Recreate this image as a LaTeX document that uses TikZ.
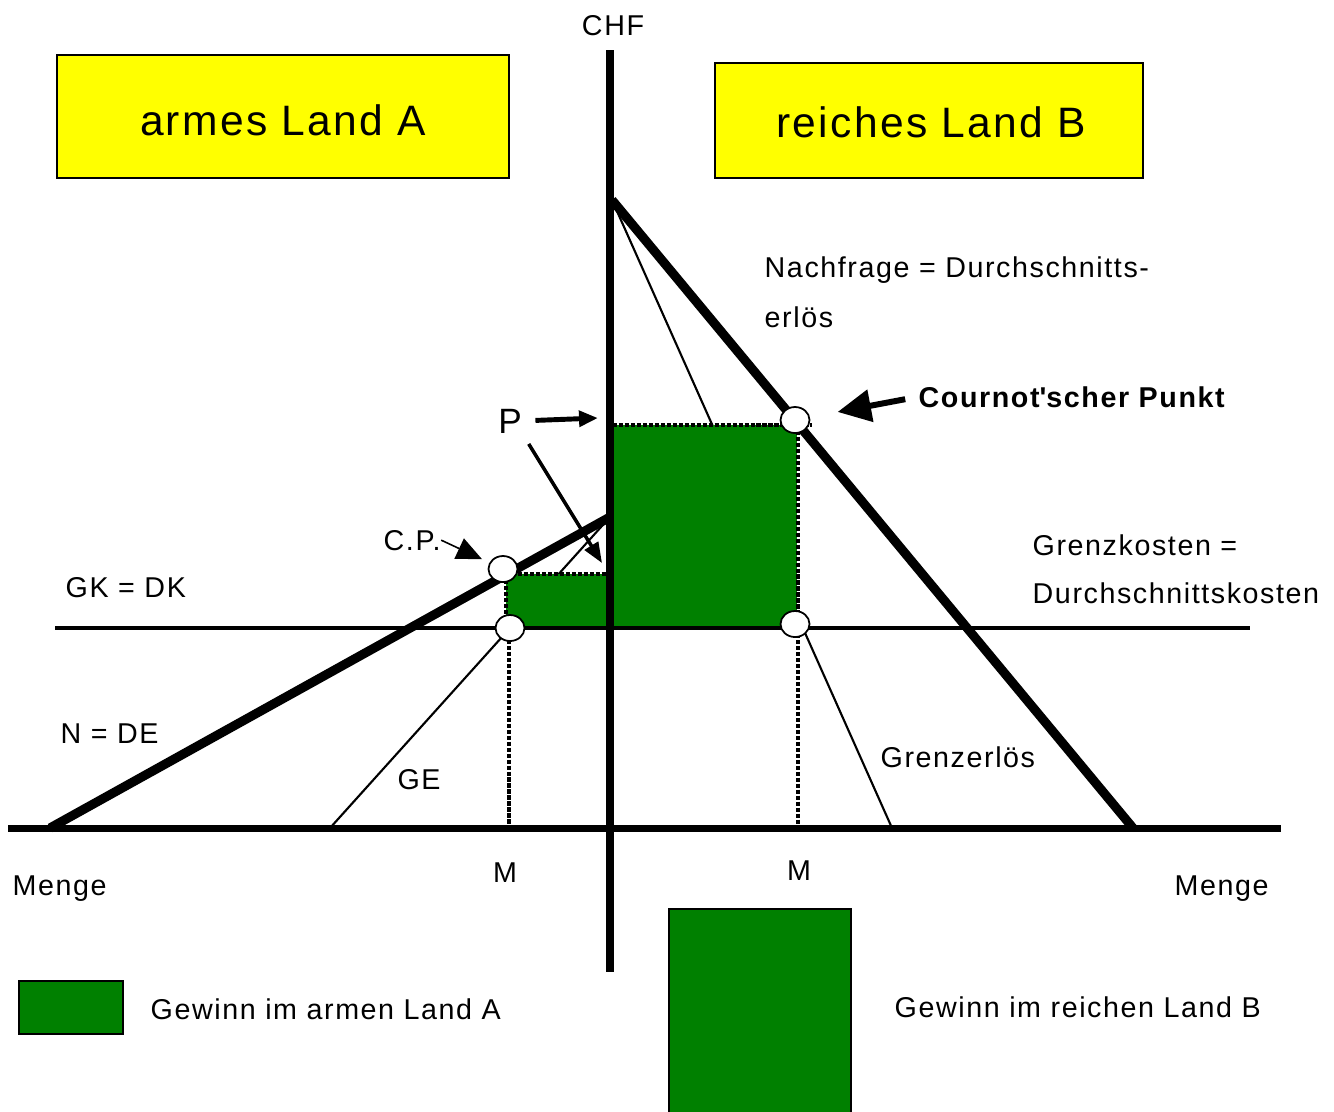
\documentclass[tikz,border=0pt]{standalone}
\usepackage{fontspec}
\setmainfont[LetterSpace=5.5]{Liberation Sans}
\usetikzlibrary{arrows.meta,shapes.geometric}
\definecolor{gruen}{RGB}{0,128,0}
\definecolor{gelb}{RGB}{255,255,0}
\tikzset{
  achse/.style     = {line width=2pt},
  gkline/.style    = {line width=1.3pt},
  kurve/.style     = {line width=2.6pt},
  duenn/.style     = {line width=0.6pt},
  punktiert/.style = {line width=0.9pt, dash pattern=on 1.2pt off 0.5pt},
  punkt/.style     = {ellipse, draw, fill=white, line width=0.5pt, minimum width=0.29cm, minimum height=0.26cm, inner sep=0pt},
  landbox/.style   = {draw, fill=gelb, line width=0.45pt},
  landtxt/.style   = {inner sep=0pt, anchor=base, font=\fontsize{12.1}{14}\selectfont},
  legende/.style   = {draw, fill=gruen, line width=0.5pt, inner sep=0pt},
  txt/.style       = {inner sep=0pt, anchor=base west, font=\fontsize{8.15}{10}\selectfont},
  ctxt/.style      = {inner sep=0pt, anchor=base, font=\fontsize{8.15}{10}\selectfont},
}

\begin{document}
\begin{tikzpicture}[x=0.01cm,y=-0.01cm]
            \useasboundingbox (0,0) rectangle (1334,1111);
            \coordinate (nBtop)  at (612,200);
            \coordinate (nBbot)  at (1133,828);
            \coordinate (geBbot) at (892,828);
            \coordinate (nAtop)  at (610,517);
            \coordinate (nAbot)  at (50,828);
            \coordinate (geAbot) at (330,828);
            \coordinate (pTipA)  at (598,418);
            \coordinate (pTipB)  at (602,563);

            \draw[duenn] (nBtop) -- (geBbot);
            \draw[duenn] (nAtop) -- (geAbot);
            \fill[gruen]      (613,425) rectangle (797,628);
            \fill[gruen]      (506,574) rectangle (608,628);
            \draw[punktiert]  (613,425) -- (812,425);
            \draw[punktiert]  (798,425) -- (798,828);
            \draw[punktiert]  (506,574) -- (608,574);
            \draw[punktiert]  (506,574) -- (506,628);
            \draw[punktiert]  (509,628) -- (509,828);
            \draw[gkline]     (55,628)  -- (1250,628);
            \draw[achse]      (8,828)   -- (1281,828);
            \draw[achse]      (610,50)  -- (610,972);
            \draw[kurve] (nBtop) -- (nBbot);
            \draw[kurve] (nAbot) -- (nAtop);

            \node[punkt] (cpB) at (795,420) {};
            \node[punkt] (gkB) at (795,624) {};
            \node[punkt] (cpA) at (503,569) {};
            \node[punkt] (gkA) at (510,628) {};

            \node[ctxt] (chf) at (613,35) {CHF};
            \node[landbox, minimum width=4.52cm, minimum height=1.23cm] (landA) at (283,116.5) {};
            \node[landbox, minimum width=4.28cm, minimum height=1.15cm] (landB) at (929,120.5) {};
            \node[landtxt] (landAText) at (283,135) {armes Land A};
            \node[landtxt] (landBText) at (931,137) {reiches Land B};
            \node[txt] (nachfrage)   at (764,277)  {Nachfrage = Durchschnitts-};
            \node[txt] (erloes)      at (764,327)  {erlös};
            \node[txt, font=\fontsize{8.15}{10}\selectfont\bfseries] (cournot) at (918,407) {Cournot\textquotesingle scher Punkt};
            \node[txt] (gkText)      at (1032,555) {Grenzkosten =};
            \node[txt] (dkText)      at (1032,603) {Durchschnittskosten};
            \node[txt] (gkdk)        at (65,597)   {GK = DK};
            \node[txt] (nde)         at (60,743)   {N = DE};
            \node[ctxt] (ge)         at (419,789)  {GE};
            \node[txt] (grenzerloes) at (880,767)  {Grenzerlös};
            \node[txt] (mengeA)      at (12,895)   {Menge};
            \node[txt] (mengeB)      at (1174,895) {Menge};
            \node[ctxt] (mA)         at (505,882)  {M};
            \node[ctxt] (mB)         at (799,880)  {M};
            \node[txt] (cp)          at (383,550)  {C.P.};
            \node[ctxt, font=\fontsize{10}{12}\selectfont] (p) at (510,433) {P};

            \draw[-{Triangle[length=5.4pt,width=4.4pt]}, line width=1.4pt, shorten <=0.13cm] (p.east) -- (pTipA);
            \draw[-{Triangle[length=5.8pt,width=4.4pt]}, line width=1pt, shorten <=0.12cm] (p.south east) -- (pTipB);
            \draw[-{Triangle[length=7.2pt,width=6.3pt]}, line width=0.45pt, shorten >=0.08cm] (cp.east) -- (cpA);
            \draw[-{Triangle[length=9.5pt,width=9pt]}, line width=1.7pt, shorten <=0.13cm, shorten >=0.28cm] (cournot.west) -- (cpB);

            \node[legende, minimum width=1.04cm, minimum height=0.53cm] (legA) at (71,1007.5) {};
            \node[txt] (legAText) at (150,1019) {Gewinn im armen Land A};
            \node[legende, minimum width=1.82cm, minimum height=2.1cm] (legB) at (760,1014) {};
            \node[txt] (legBText) at (894,1017) {Gewinn im reichen Land B};
\end{tikzpicture}
\end{document}
